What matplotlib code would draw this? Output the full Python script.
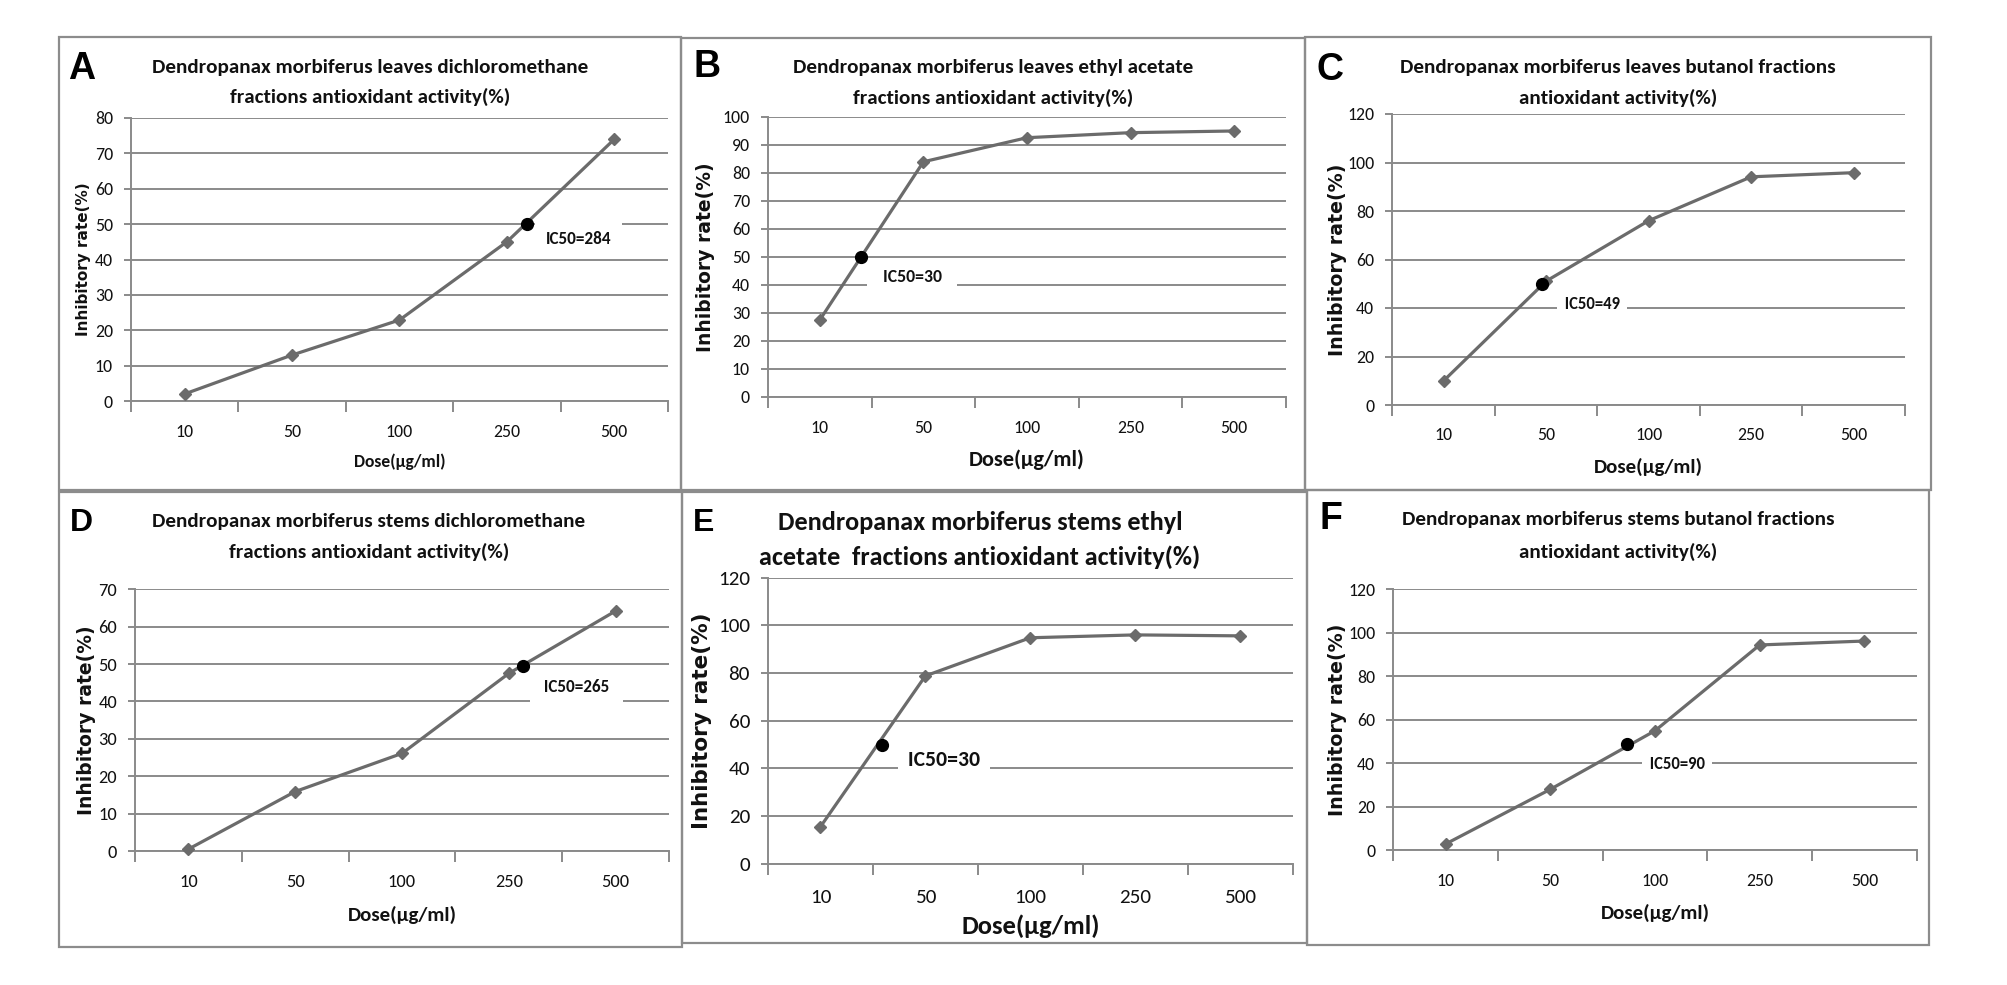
import matplotlib
matplotlib.use("Agg")
import matplotlib.pyplot as plt
import numpy as np

# ---------------- data ----------------
doses = ["10", "50", "100", "250", "500"]

inhib_A = [2.0, 13.0, 22.9, 45.0, 74.0]     # leaves dichloromethane
inhib_B = [27.4, 83.9, 92.5, 94.3, 94.9]    # leaves ethyl acetate
inhib_C = [10.0, 51.1, 76.0, 94.1, 95.8]    # leaves butanol
inhib_D = [0.5, 15.9, 26.1, 47.5, 64.2]     # stems dichloromethane
inhib_E = [15.5, 78.8, 94.8, 96.0, 95.6]    # stems ethyl acetate
inhib_F = [2.9, 28.0, 54.9, 94.3, 96.1]     # stems butanol

# IC50 marker: position along the category axis (0 = first dose) and value
ic50_pos = {"A": 3.19, "B": 0.40, "C": 0.955, "D": 3.13, "E": 0.59, "F": 1.73}
ic50_val = {"A": 50.0, "B": 50.0, "C": 50.0, "D": 49.5, "E": 49.8, "F": 48.8}
ic50_text = {"A": "IC50=284", "B": "IC50=30", "C": "IC50=49",
             "D": "IC50=265", "E": "IC50=30", "F": "IC50=90"}

titles = {
    "A": ["Dendropanax morbiferus leaves dichloromethane", "fractions antioxidant activity(%)"],
    "B": ["Dendropanax morbiferus leaves ethyl acetate", "fractions antioxidant activity(%)"],
    "C": ["Dendropanax morbiferus leaves butanol fractions", "antioxidant activity(%)"],
    "D": ["Dendropanax morbiferus stems dichloromethane", "fractions antioxidant activity(%)"],
    "E": ["Dendropanax morbiferus stems ethyl", "acetate  fractions antioxidant activity(%)"],
    "F": ["Dendropanax morbiferus stems butanol fractions", "antioxidant activity(%)"],
}
ylabel_text = "Inhibitory rate(%)"
xlabel_text = "Dose(\u03bcg/ml)"

# ---------------- styling ----------------
W, H = 2008, 985
MAIN = ["Carlito", "Liberation Sans", "DejaVu Sans"]
plt.rcParams["font.family"] = MAIN

LINE_C = "#6b6b6b"
GRID_C = "#8a8a8a"
BORDER_C = "#8c8c8c"
TEXT_C = "#111111"

fig = plt.figure(figsize=(W / 100, H / 100), dpi=100)
PX = 72 / 100  # points per pixel


def frect(x0, y0, x1, y1):
    return [x0 / W, 1 - y1 / H, (x1 - x0) / W, (y1 - y0) / H]


def border(x0, y0, x1, y1):
    fig.add_artist(plt.Rectangle((x0 / W, 1 - y1 / H), (x1 - x0) / W, (y1 - y0) / H,
                                 transform=fig.transFigure, fill=False,
                                 ec=BORDER_C, lw=1.6))


panels = [
    dict(key="A", vals=inhib_A, ax=(131, 118, 668, 401), ymax=80, ystep=10,
         border=(59, 37, 681, 490), letter=(68, 69, 27), tl=(370, 67, 97, 15.2),
         tick=12.8, tickc=430, ylab=(84, 11.0), xlab=(462, 12.6),
         lab=(3.67, 45.9, 0.62, 0, 12.3)),
    dict(key="B", vals=inhib_B, ax=(768, 116.7, 1286, 396.7), ymax=100, ystep=10,
         border=(681, 38, 1305, 490), letter=(693, 67, 27), tl=(993, 67, 98, 15.2),
         tick=12.8, tickc=426, ylab=(706, 13.5), xlab=(460, 16),
         lab=(0.89, 42.9, 0.22, 3, 12.8)),
    dict(key="C", vals=inhib_C, ax=(1392.4, 114, 1905, 405), ymax=120, ystep=20,
         border=(1305, 37, 1931, 490), letter=(1317, 70, 27), tl=(1618, 67, 98, 15.2),
         tick=12.8, tickc=433, ylab=(1337.5, 13.7), xlab=(467, 15),
         lab=(1.45, 41.6, 0.22, 1, 12.0)),
    dict(key="D", vals=inhib_D, ax=(135, 589.3, 669, 851), ymax=70, ystep=10,
         border=(59, 492, 682, 947), letter=(70, 523, 23), tl=(369, 522, 552, 15.2),
         tick=13.2, tickc=880, ylab=(87, 13.5), xlab=(915, 15),
         lab=(3.63, 44.0, 0.58, 1, 12.3)),
    dict(key="E", vals=inhib_E, ax=(768, 577.7, 1292.6, 863.7), ymax=120, ystep=20,
         border=(682, 492, 1307, 943), letter=(693, 523, 23), tl=(980, 523, 557, 18.9),
         tick=15.2, tickc=896.7, ylab=(702, 15.5), xlab=(926.7, 19.2),
         lab=(1.18, 43.5, 0.22, 1, 15.6)),
    dict(key="F", vals=inhib_F, ax=(1393.3, 589, 1916.7, 850.3), ymax=120, ystep=20,
         border=(1307, 490, 1929, 945), letter=(1320, 519, 27), tl=(1618, 520, 552, 15.2),
         tick=12.8, tickc=879, ylab=(1337.5, 13.7), xlab=(913, 15),
         lab=(2.21, 39.5, 0.22, 1, 12.0)),
]

for p in panels:
    k = p["key"]
    border(*p["border"])
    x0, y0, x1, y1 = p["ax"]
    ax = fig.add_axes(frect(x0, y0, x1, y1))
    n = len(doses)
    xc = np.arange(n) + 0.5
    ax.plot(xc, p["vals"], color=LINE_C, lw=2.3, marker="D", ms=5.8,
            mfc=LINE_C, mec=LINE_C, zorder=4, clip_on=False)
    ax.plot([ic50_pos[k] + 0.5], [ic50_val[k]], "o", color="black", ms=8.5,
            zorder=5, clip_on=False)

    lx, ly, vpad, nsp, lfs = p["lab"]
    sp = " " * nsp
    ax.text(lx + 0.5, ly, sp + ic50_text[k] + sp, ha="center", va="center",
            fontsize=lfs, fontweight="bold", color=TEXT_C, zorder=3,
            bbox=dict(boxstyle=f"square,pad={vpad}", fc="white", ec="none"))

    ax.set_xlim(0, n)
    ax.set_ylim(0, p["ymax"])
    ax.set_yticks(np.arange(0, p["ymax"] + 1, p["ystep"]))
    ax.yaxis.grid(True, color=GRID_C, lw=1.4)
    ax.set_axisbelow(True)
    ax.set_xticks(np.arange(n + 1))
    ax.set_xticklabels([])
    ax.set_xticks(xc, minor=True)
    ax.set_xticklabels(doses, minor=True)
    for s in ("top", "right"):
        ax.spines[s].set_visible(False)
    for s in ("left", "bottom"):
        ax.spines[s].set_color(GRID_C)
        ax.spines[s].set_linewidth(1.4)
    hpx = y1 - y0
    tick_px = p["tick"] / PX
    ax.tick_params(axis="x", which="major", length=8, width=1.4, color=GRID_C,
                   direction="out")
    ax.tick_params(axis="x", which="minor", length=0, labelsize=p["tick"],
                   labelcolor=TEXT_C,
                   pad=max(0.0, (p["tickc"] - y1 - 0.6 * tick_px + 5) * PX))
    ax.tick_params(axis="y", length=5, width=1.4, color=GRID_C, labelsize=p["tick"],
                   labelcolor=TEXT_C, pad=8)

    # axis titles
    ax.set_ylabel(ylabel_text, fontsize=p["ylab"][1], fontweight="bold",
                  family=["DejaVu Sans"], color=TEXT_C)
    ax.yaxis.set_label_coords(-(x0 - p["ylab"][0]) / (x1 - x0), 0.5)
    ax.yaxis.label.set_va("center")
    ax.set_xlabel(xlabel_text, fontsize=p["xlab"][1], fontweight="bold", color=TEXT_C)
    ax.xaxis.set_label_coords(0.5, -(p["xlab"][0] - y1) / hpx)
    ax.xaxis.label.set_va("center")

    # panel letter
    lxp, lyp, lsz = p["letter"]
    fig.text(lxp / W, 1 - lyp / H, k, fontsize=lsz, fontweight="bold",
             family=["Liberation Sans", "DejaVu Sans"], ha="left", va="center",
             color="black")
    # title (two lines)
    tx, ty1, ty2, tsz = p["tl"]
    fig.text(tx / W, 1 - ty1 / H, titles[k][0], fontsize=tsz, fontweight="bold",
             ha="center", va="center", color=TEXT_C)
    fig.text(tx / W, 1 - ty2 / H, titles[k][1], fontsize=tsz, fontweight="bold",
             ha="center", va="center", color=TEXT_C)

fig.savefig("out.png", dpi=100, facecolor="white")
